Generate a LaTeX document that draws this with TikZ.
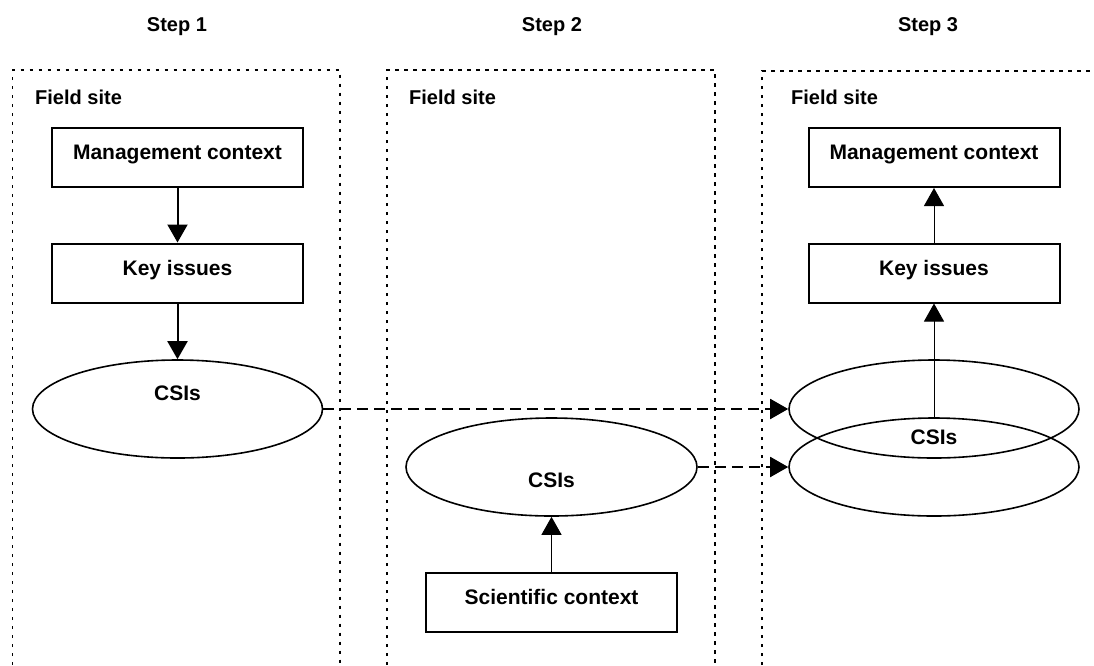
\documentclass[tikz,border=0pt]{standalone}
\usepackage{fontspec}
\setmainfont{Liberation Sans}
\usetikzlibrary{arrows.meta,shapes.geometric}
\begin{document}
\begin{tikzpicture}[x=1pt,y=-1pt,
  font=\fontsize{21}{25}\selectfont\bfseries,
  box/.style={draw,line width=2pt,minimum width=251pt,minimum height=59pt,inner sep=0pt,text height=12pt,text depth=8pt},
  oval/.style={draw,ellipse,line width=1.6pt,minimum width=290pt,minimum height=98pt,inner sep=0pt},
  frame/.style={line width=1.8pt,dash pattern=on 3.5pt off 5.5pt},
  arrowA/.style={line width=2pt,-{Triangle[width=20pt,length=18pt]}},
  arrowB/.style={line width=1pt,-{Triangle[width=20pt,length=18pt]}},
  arrowC/.style={line width=2pt,dash pattern=on 11pt off 6pt,-{Triangle[width=20pt,length=18pt]}},
  steplabel/.style={inner sep=0pt,font=\fontsize{20}{24}\selectfont\bfseries},
  sitelabel/.style={anchor=west,inner sep=0pt,font=\fontsize{20}{24}\selectfont\bfseries}]
\useasboundingbox (0,0) rectangle (1094,665);
% panels
\draw[frame] (12.5,665) -- (12.5,70) -- (340,70) -- (340,665);
\draw[frame] (387,665) -- (387,70) -- (715,70) -- (715,665);
\draw[frame] (762,665) -- (762,71) -- (1094,71);
% headings
\node[steplabel] (s1) at (177,27) {Step 1};
\node[steplabel] (s2) at (552,27) {Step 2};
\node[steplabel] (s3) at (928,27) {Step 3};
\node[sitelabel] (f1) at (35,97) {Field site};
\node[sitelabel] (f2) at (409,97) {Field site};
\node[sitelabel] (f3) at (791,97) {Field site};
% step 1
\node[box] (mc1) at (177.5,157.5) {Management context};
\node[box] (ki1) at (177.5,273) {Key issues};
\node[oval,label={[yshift=16pt]center:CSIs}] (c1) at (177.5,409) {};
% step 2
\node[oval,minimum width=291pt,label={[yshift=-13pt]center:CSIs}] (c2) at (551.5,467) {};
\node[box] (sc) at (551.5,602.5) {Scientific context};
% step 3
\node[box] (mc3) at (934,157.5) {Management context};
\node[box] (ki3) at (934,273) {Key issues};
\node[oval] (c3a) at (934,409) {};
\node[oval,label={[yshift=30pt]center:CSIs}] (c3b) at (934,467) {};
% connectors
\draw[arrowA] (mc1.south) -- (ki1.north);
\draw[arrowA] (ki1.south) -- (c1.north);
\draw[arrowB] (sc.north) -- (c2.south);
\draw[arrowB] (ki3.north) -- (mc3.south);
\draw[arrowB] (c3b.north) -- (ki3.south);
\draw[arrowC] (c1.east) -- (c3a.west);
\draw[arrowC] (c2.east) -- (c3b.west);
\end{tikzpicture}
\end{document}
